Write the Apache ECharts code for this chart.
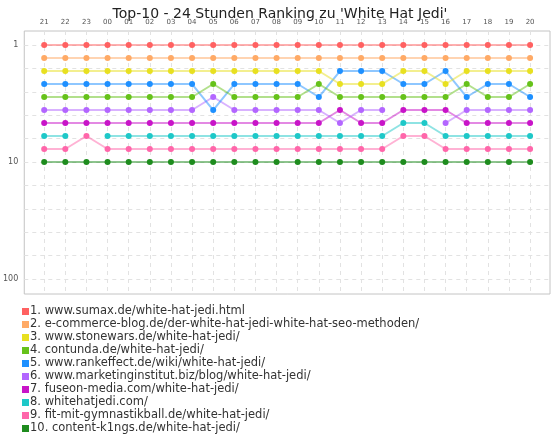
<!DOCTYPE html>
<html>
<head>
<meta charset="utf-8">
<script src="https://cdn.jsdelivr.net/npm/echarts@6/dist/echarts.min.js"></script>
<style>
  html, body { margin: 0; padding: 0; background: #fff; }
  #chart { width: 560px; height: 440px; }
</style>
</head>
<body>
<div id="chart"></div>
<script>
const hours = ["21", "22", "23", "00", "01", "02", "03", "04", "05", "06", "07", "08",
  "09", "10", "11", "12", "13", "14", "15", "16", "17", "18", "19", "20"];

const names = [
  "1. www.sumax.de/white-hat-jedi.html",
  "2. e-commerce-blog.de/der-white-hat-jedi-white-hat-seo-methoden/",
  "3. www.stonewars.de/white-hat-jedi/",
  "4. contunda.de/white-hat-jedi/",
  "5. www.rankeffect.de/wiki/white-hat-jedi/",
  "6. www.marketinginstitut.biz/blog/white-hat-jedi/",
  "7. fuseon-media.com/white-hat-jedi/",
  "8. whitehatjedi.com/",
  "9. fit-mit-gymnastikball.de/white-hat-jedi/",
  "10. content-k1ngs.de/white-hat-jedi/",
];

const colors = ["#ff6161", "#ffaa66", "#e8e020", "#66c21a", "#1e90ff",
  "#b366ff", "#c814c8", "#1ec8c8", "#ff66aa", "#1e8c1e"];

// rank per hour (null = not in top 10)
const rank1 = [1, 1, 1, 1, 1, 1, 1, 1, 1, 1, 1, 1, 1, 1, 1, 1, 1, 1, 1, 1, 1, 1, 1, 1];
const rank2 = [2, 2, 2, 2, 2, 2, 2, 2, 2, 2, 2, 2, 2, 2, 2, 2, 2, 2, 2, 2, 2, 2, 2, 2];
const rank3 = [3, 3, 3, 3, 3, 3, 3, 3, 3, 3, 3, 3, 3, 3, 4, 4, 4, 3, 3, 4, 3, 3, 3, 3];
const rank4 = [5, 5, 5, 5, 5, 5, 5, 5, 4, 5, 5, 5, 5, 4, 5, 5, 5, 5, 5, 5, 4, 5, 5, 4];
const rank5 = [4, 4, 4, 4, 4, 4, 4, 4, 6, 4, 4, 4, 4, 5, 3, 3, 3, 4, 4, 3, 5, 4, 4, 5];
const rank6 = [6, 6, 6, 6, 6, 6, 6, 6, 5, 6, 6, 6, 6, 6, 7, 6, 6, null, null, 7, 6, 6, 6, 6];
const rank7 = [7, 7, 7, 7, 7, 7, 7, 7, 7, 7, 7, 7, 7, 7, 6, 7, 7, 6, 6, 6, 7, 7, 7, 7];
const rank8 = [8, 8, null, 8, 8, 8, 8, 8, 8, 8, 8, 8, 8, 8, 8, 8, 8, 7, 7, 8, 8, 8, 8, 8];
const rank9 = [9, 9, 8, 9, 9, 9, 9, 9, 9, 9, 9, 9, 9, 9, 9, 9, 9, 8, 8, 9, 9, 9, 9, 9];
const rank10 = [10, 10, 10, 10, 10, 10, 10, 10, 10, 10, 10, 10, 10, 10, 10, 10, 10, 10, 10, 10, 10, 10, 10, 10];

const ranks = [rank1, rank2, rank3, rank4, rank5, rank6, rank7, rank8, rank9, rank10];

const yTicks = ["1", "10", "100"];

// each decade is drawn linearly: 1..10 -> 0..1, 10..100 -> 1..2
const toAxis = (r) => (r <= 10 ? (r - 1) / 9 : 1 + (r - 10) / 90);

const chart = echarts.init(document.getElementById("chart"), null, { renderer: "canvas" });

const series = ranks.map((arr, i) => ({
  name: names[i],
  type: "line",
  data: arr.map((r, x) => [x, r == null ? null : toAxis(r)]),
  connectNulls: false,
  symbol: "circle",
  symbolSize: 6,
  itemStyle: { color: colors[i] },
  lineStyle: { color: colors[i], width: 2, opacity: 0.5 },
  emphasis: { disabled: true },
  z: 10 - i,
}));

chart.setOption({
  animation: false,
  backgroundColor: "#fff",
  title: {
    text: "Top-10 - 24 Stunden Ranking zu 'White Hat Jedi'",
    left: "center",
    top: 2,
    textStyle: { fontFamily: "DejaVu Sans", fontSize: 14, fontWeight: "normal", color: "#222" },
  },
  grid: {
    left: 22, top: 31, right: 10, bottom: 146,
    show: true, borderColor: "#c4c4c4", borderWidth: 1,
  },
  xAxis: {
    type: "value",
    position: "top",
    min: -0.943,
    max: 23.943,
    axisLine: { show: false },
    axisTick: { show: false, customValues: hours.map((h, i) => i) },
    axisLabel: {
      customValues: hours.map((h, i) => i),
      formatter: (v) => hours[Math.round(v)],
      fontFamily: "DejaVu Sans", fontSize: 7, color: "#555", margin: 5,
    },
    splitLine: { show: true, lineStyle: { color: "#e2e2e2", type: [4, 4], width: 1 } },
  },
  yAxis: {
    type: "value",
    inverse: true,
    min: -0.1197,
    max: 2.128,
    axisLine: { show: false },
    axisTick: { show: false, customValues: [0, 0.2, 0.4, 0.6, 0.8, 1, 1.2, 1.4, 1.6, 1.8, 2] },
    axisLabel: {
      customValues: [0, 1, 2],
      formatter: (v) => yTicks[Math.round(v)],
      fontFamily: "DejaVu Sans", fontSize: 8, color: "#555", margin: 6,
    },
    splitLine: { show: true, lineStyle: { color: "#e2e2e2", type: [4, 4], width: 1 } },
  },
  legend: {
    orient: "vertical",
    left: 22,
    top: 305,
    padding: 0,
    icon: "rect",
    itemWidth: 7,
    itemHeight: 7,
    itemGap: 0,
    selectedMode: false,
    textStyle: { fontFamily: "DejaVu Sans", fontSize: 11.5, color: "#333", padding: [0, 0, 0, -4], lineHeight: 13 },
    data: names,
  },
  series,
});
</script>
</body>
</html>
